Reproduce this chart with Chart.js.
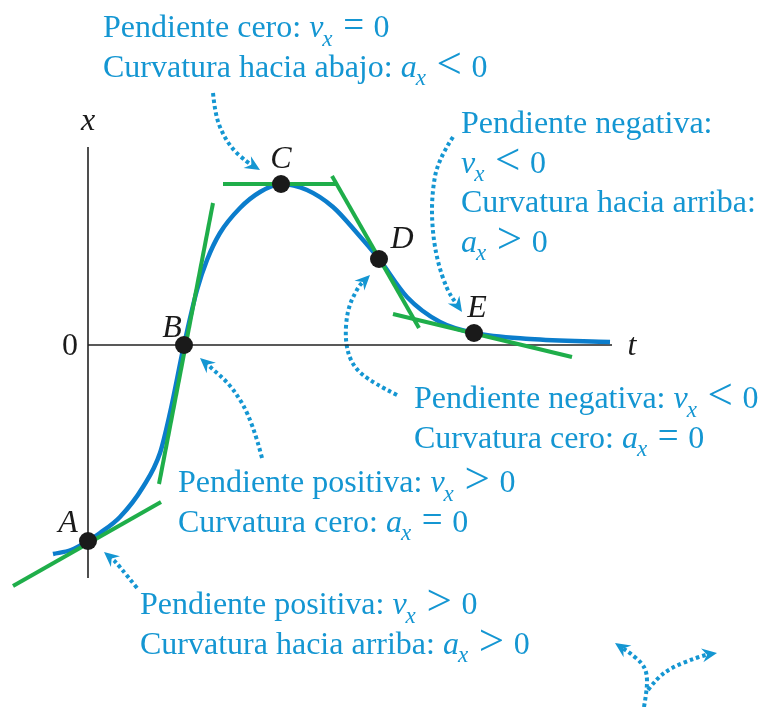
<!DOCTYPE html>
<html>
<head>
<meta charset="utf-8">
<script src="https://cdn.jsdelivr.net/npm/chart.js@4.4.1/dist/chart.umd.min.js"></script>
<style>
  html, body { margin: 0; padding: 0; background: #fff; }
  #wrap { width: 767px; height: 707px; }
</style>
</head>
<body>
<div id="wrap"><canvas id="c" width="767" height="707"></canvas></div>
<script>
/* x-t graph: slope and curvature at five points */

// curve x(t) (t, x in arbitrary units)
const curveT = [-0.35, -0.17, 0, 0.12, 0.32, 0.55, 0.72, 0.82, 0.96, 1.09, 1.19, 1.32, 1.52, 1.72, 1.93, 2.19, 2.45, 2.69, 2.91, 3.19, 3.52, 3.86, 4.42, 5.22];
const curveX = [-2.09, -2.05, -1.96, -1.88, -1.72, -1.42, -1.08, -0.68, 0, 0.55, 0.85, 1.12, 1.37, 1.53, 1.61, 1.55, 1.38, 1.12, 0.86, 0.48, 0.23, 0.12, 0.06, 0.03];

// the five marked points
const pointNames = ["A", "B", "C", "D", "E"];
const pointT = [0, 0.96, 1.93, 2.91, 3.86];
const pointX = [-1.96, 0, 1.61, 0.86, 0.12];

// tangent segments [start, end] as [t, x]
const tangentA = [[-0.75, -2.41], [0.73, -1.57]];
const tangentB = [[0.71, -1.39], [1.25, 1.42]];
const tangentC = [[1.35, 1.61], [2.49, 1.61]];
const tangentD = [[2.44, 1.69], [3.31, 0.17]];
const tangentE = [[3.05, 0.31], [4.84, -0.12]];

// axes
const axisT = [[0, 0], [5.24, 0]];
const axisX = [[0, -2.33], [0, 1.98]];

// dotted pointer arrows (last point is the arrow tip)
const arrowC = [[1.25, 2.52], [1.27, 2.32], [1.34, 2.12], [1.45, 1.95], [1.59, 1.83], [1.72, 1.75]];
const arrowE = [[3.65, 2.08], [3.50, 1.85], [3.44, 1.52], [3.44, 1.18], [3.49, 0.85], [3.59, 0.55], [3.74, 0.33]];
const arrowD = [[3.09, -0.50], [2.85, -0.38], [2.65, -0.22], [2.57, 0.02], [2.59, 0.35], [2.70, 0.58], [2.82, 0.70]];
const arrowB = [[1.74, -1.13], [1.65, -0.78], [1.45, -0.42], [1.12, -0.13]];
const arrowA = [[0.49, -2.43], [0.29, -2.18], [0.16, -2.07]];
const arrowLeft = [[5.56, -3.62], [5.59, -3.45], [5.59, -3.28], [5.54, -3.18], [5.42, -3.08], [5.27, -2.98]];
const arrowRight = [[5.60, -3.45], [5.70, -3.32], [5.85, -3.22], [6.02, -3.15], [6.17, -3.10], [6.29, -3.08]];

// captions: anchor [t, x] of first baseline, then lines ($v_x$ = italic + subscript)
const captionC = { at: [0.15, 3.08], lines: ["Pendiente cero: $v_x$ = 0", "Curvatura hacia abajo: $a_x$ < 0"] };
const captionE = { at: [3.73, 2.12], lines: ["Pendiente negativa:", "$v_x$ < 0", "Curvatura hacia arriba:", "$a_x$ > 0"] };
const captionD = { at: [3.26, -0.63], lines: ["Pendiente negativa: $v_x$ < 0", "Curvatura cero: $a_x$ = 0"] };
const captionB = { at: [0.90, -1.47], lines: ["Pendiente positiva: $v_x$ > 0", "Curvatura cero: $a_x$ = 0"] };
const captionA = { at: [0.52, -2.69], lines: ["Pendiente positiva: $v_x$ > 0", "Curvatura hacia arriba: $a_x$ > 0"] };

// point labels and axis labels, baseline anchors [t, x]
const pointLabelAt = [[-0.20, -1.87], [0.84, 0.08], [1.93, 1.77], [3.14, 0.97], [3.89, 0.28]];
const axisLabels = [
  { text: "x", at: [0, 2.15], italic: true },
  { text: "0", at: [-0.18, -0.10], italic: false },
  { text: "t", at: [5.44, -0.10], italic: true },
];

const BLUE = "#0b7dcc";
const GREEN = "#1fae4a";
const CYAN = "#1496d2";
const SERIF = '"Liberation Serif", "DejaVu Serif", serif';
const FS = 32;

const toXY = (arr) => arr.map((p) => ({ x: p[0], y: p[1] }));
const line = (arr, color, width) => ({
  data: toXY(arr),
  borderColor: color,
  borderWidth: width,
  pointRadius: 0,
  showLine: true,
  fill: false,
});

const datasets = [
  {
    data: pointT.map((t, i) => ({ x: t, y: pointX[i] })),
    backgroundColor: "#1a1a1a",
    borderWidth: 0,
    pointRadius: 9,
    showLine: false,
  },
  line(tangentA, GREEN, 4),
  line(tangentB, GREEN, 4),
  line(tangentC, GREEN, 4),
  line(tangentD, GREEN, 4),
  line(tangentE, GREEN, 4),
  Object.assign(line(curveT.map((t, i) => [t, curveX[i]]), BLUE, 4.5), { cubicInterpolationMode: "monotone" }),
  line(axisT, "#222", 1.6),
  line(axisX, "#222", 1.6),
];

function smoothPath(ctx, pts) {
  ctx.beginPath();
  ctx.moveTo(pts[0].x, pts[0].y);
  for (let i = 1; i < pts.length - 1; i++) {
    const mx = (pts[i].x + pts[i + 1].x) / 2;
    const my = (pts[i].y + pts[i + 1].y) / 2;
    ctx.quadraticCurveTo(pts[i].x, pts[i].y, mx, my);
  }
  const last = pts[pts.length - 1];
  ctx.lineTo(last.x, last.y);
  ctx.stroke();
}

function drawArrow(ctx, sx, sy, arr) {
  const pts = arr.map((p) => ({ x: sx.getPixelForValue(p[0]), y: sy.getPixelForValue(p[1]) }));
  const tip = pts[pts.length - 1];
  const prev = pts[pts.length - 2];
  const ang = Math.atan2(tip.y - prev.y, tip.x - prev.x);
  // shorten the dotted run so the head sits on the tip
  const body = pts.slice(0, -1).concat([{ x: tip.x - 9 * Math.cos(ang), y: tip.y - 9 * Math.sin(ang) }]);
  ctx.save();
  ctx.strokeStyle = CYAN;
  ctx.lineWidth = 4;
  ctx.setLineDash([3.5, 3]);
  smoothPath(ctx, body);
  ctx.setLineDash([]);
  ctx.translate(tip.x, tip.y);
  ctx.rotate(ang);
  ctx.fillStyle = CYAN;
  ctx.beginPath();
  ctx.moveTo(0, 0);
  ctx.lineTo(-15, -7);
  ctx.lineTo(-10, 0);
  ctx.lineTo(-15, 7);
  ctx.closePath();
  ctx.fill();
  ctx.restore();
}

// plain text; relation signs get math-style size and spacing
function drawPlain(ctx, text, cx, y, size) {
  const bits = text.split(/ ([=<>]) /);
  bits.forEach((b, j) => {
    if (j % 2 === 1) {
      ctx.font = `${Math.round(size * (b === "=" ? 1.15 : 1.4))}px ${SERIF}`;
      const w = ctx.measureText(b).width;
      const gap = size * 0.3;
      ctx.fillText(b, cx + gap, y + (b === "=" ? 0 : size * 0.04));
      cx += w + 2 * gap;
    } else if (b) {
      ctx.font = `${size}px ${SERIF}`;
      ctx.fillText(b, cx, y);
      cx += ctx.measureText(b).width;
    }
  });
  return cx;
}

function drawRich(ctx, str, x, y, size) {
  const parts = str.split("$");
  let cx = x;
  parts.forEach((part, i) => {
    if (!part) return;
    if (i % 2 === 0) {
      cx = drawPlain(ctx, part, cx, y, size);
    } else {
      const [base, sub] = part.split("_");
      ctx.font = `italic ${size}px ${SERIF}`;
      ctx.fillText(base, cx, y);
      cx += ctx.measureText(base).width;
      if (sub) {
        ctx.font = `italic ${Math.round(size * 0.72)}px ${SERIF}`;
        ctx.fillText(sub, cx - 1, y + size * 0.27);
        cx += ctx.measureText(sub).width;
      }
    }
  });
}

const overlay = {
  id: "overlay",
  beforeDatasetsDraw(chart) {
    const { ctx, scales } = chart;
    [arrowC, arrowE, arrowD, arrowB, arrowA, arrowLeft, arrowRight].forEach((a) => drawArrow(ctx, scales.x, scales.y, a));
  },
  afterDatasetsDraw(chart) {
    const { ctx, scales } = chart;
    const sx = scales.x, sy = scales.y;
    ctx.save();
    ctx.textBaseline = "alphabetic";
    ctx.fillStyle = CYAN;
    ctx.textAlign = "left";
    [captionC, captionE, captionD, captionB, captionA].forEach((c) => {
      const x0 = sx.getPixelForValue(c.at[0]);
      const y0 = sy.getPixelForValue(c.at[1]);
      c.lines.forEach((ln, i) => drawRich(ctx, ln, x0, y0 + i * 39.5, FS));
    });
    ctx.fillStyle = "#1a1a1a";
    ctx.textAlign = "center";
    ctx.font = `italic ${FS}px ${SERIF}`;
    pointNames.forEach((n, i) => {
      ctx.fillText(n, sx.getPixelForValue(pointLabelAt[i][0]), sy.getPixelForValue(pointLabelAt[i][1]));
    });
    axisLabels.forEach((l) => {
      ctx.font = `${l.italic ? "italic " : ""}${FS}px ${SERIF}`;
      ctx.fillText(l.text, sx.getPixelForValue(l.at[0]), sy.getPixelForValue(l.at[1]));
    });
    ctx.restore();
  },
};

new Chart(document.getElementById("c"), {
  type: "scatter",
  data: { datasets },
  options: {
    responsive: false,
    animation: false,
    layout: { padding: 0, autoPadding: false },
    plugins: { legend: { display: false }, tooltip: { enabled: false } },
    scales: {
      x: { type: "linear", display: false, min: -0.88, max: 6.79 },
      y: { type: "linear", display: false, min: -3.62, max: 3.45 },
    },
  },
  plugins: [overlay],
});
</script>
</body>
</html>
